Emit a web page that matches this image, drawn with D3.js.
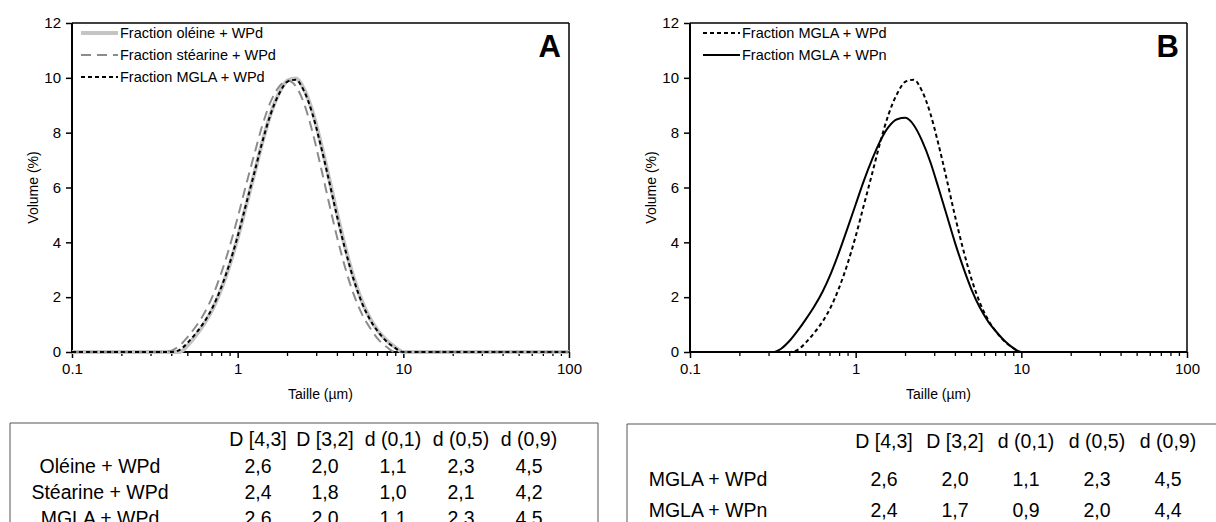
<!DOCTYPE html>
<html><head><meta charset="utf-8">
<script src="https://cdn.jsdelivr.net/npm/d3@7"></script>
<style>body{margin:0;background:#fff}svg{display:block}text{font-family:"Liberation Sans",Arial,sans-serif;fill:#000}</style>
</head><body><svg id="c" width="1216" height="522"></svg>
<script>
const sizes = [0.1,0.251,0.282,0.316,0.355,0.398,0.447,0.501,0.562,0.631,0.708,0.794,0.891,1.0,1.12,1.26,1.41,1.58,1.78,2.0,2.24,2.51,2.82,3.16,3.55,3.98,4.47,5.01,5.62,6.31,7.08,7.94,8.91,10.0,31.6,100];
const oleineWPd = [0,0,0,0,0,0,0,0.25,0.62,1.05,1.58,2.28,3.14,4.16,5.30,6.50,7.66,8.68,9.45,9.90,9.98,9.60,8.80,7.68,6.38,5.05,3.80,2.72,1.86,1.21,0.75,0.42,0.18,0,0,0];
const stearineWPd = [0,0,0,0,0,0.05,0.24,0.56,0.95,1.43,2.06,2.86,3.81,4.90,6.06,7.21,8.27,9.12,9.68,9.90,9.70,9.08,8.06,6.81,5.47,4.19,3.05,2.11,1.39,0.87,0.45,0.18,0,0,0,0];
const mglaWPd = [0,0,0,0,0,0,0.08,0.35,0.70,1.11,1.64,2.34,3.20,4.22,5.35,6.53,7.67,8.67,9.42,9.86,9.93,9.53,8.71,7.58,6.28,4.95,3.71,2.65,1.80,1.17,0.72,0.38,0.15,0,0,0];
const mglaWPn = [0,0,0,0,0.12,0.40,0.78,1.20,1.66,2.20,2.86,3.64,4.50,5.38,6.24,7.04,7.71,8.21,8.49,8.54,8.28,7.72,6.94,5.99,4.98,3.98,3.07,2.27,1.62,1.11,0.73,0.40,0.15,0,0,0];
const yTicks = [0,2,4,6,8,10,12];
const xTicks = [0.1,1,10,100];
const xTickLabels = ["0.1","1","10","100"];
const legendA = ["Fraction oléine + WPd","Fraction stéarine + WPd","Fraction MGLA + WPd"];
const legendB = ["Fraction MGLA + WPd","Fraction MGLA + WPn"];
const tableHeaders = ["D [4,3]","D [3,2]","d (0,1)","d (0,5)","d (0,9)"];
const tableARows = ["Oléine  + WPd","Stéarine + WPd","MGLA + WPd"];
const tableAValues = [["2,6","2,0","1,1","2,3","4,5"],["2,4","1,8","1,0","2,1","4,2"],["2,6","2,0","1,1","2,3","4,5"]];
const tableBRows = ["MGLA + WPd","MGLA + WPn"];
const tableBValues = [["2,6","2,0","1,1","2,3","4,5"],["2,4","1,7","0,9","2,0","4,4"]];

const svg = d3.select("#c");
const styles = {
  ole:{stroke:"#c4c4c4",width:4,dash:null},
  ste:{stroke:"#8c8c8c",width:2,dash:"10,6"},
  mglaD:{stroke:"#000",width:2,dash:"4,3"},
  wpn:{stroke:"#000",width:2,dash:null}
};

function panel(x0,x1,label,series,legend,legendX){
  const x = d3.scaleLog().domain([0.1,100]).range([x0,x1]);
  const y = d3.scaleLinear().domain([0,12]).range([352,23]);
  const g = svg.append("g");
  g.append("line").attr("x1",x0).attr("x2",x1).attr("y1",23).attr("y2",23).attr("stroke","#000").attr("stroke-width",1.5);
  g.append("line").attr("x1",x1).attr("x2",x1).attr("y1",23).attr("y2",352).attr("stroke","#000").attr("stroke-width",1.5);
  const ya = g.append("g").attr("transform",`translate(${x0},0)`)
    .call(d3.axisLeft(y).tickValues(yTicks).tickSize(6).tickPadding(5).tickFormat(d3.format("d")));
  ya.select(".domain").attr("stroke-width",2).attr("d",`M0,${y(0)}V${y(12)}`);
  ya.selectAll(".tick line").attr("stroke-width",1.5);
  ya.selectAll("text").style("font-size","15px").style("font-family","Liberation Sans, Arial");
  const xa = g.append("g").attr("transform","translate(0,352)")
    .call(d3.axisBottom(x).tickValues(xTicks).tickSize(6).tickPadding(5).tickFormat((d,i)=>xTickLabels[i]));
  xa.select(".domain").attr("stroke-width",2).attr("d",`M${x0},0H${x1}`);
  xa.selectAll(".tick line").attr("stroke-width",1.5);
  xa.selectAll("text").style("font-size","15px").style("font-family","Liberation Sans, Arial");
  const minor = [];
  [0.1,1,10].forEach(b=>{for(let k=2;k<=9;k++)minor.push(b*k);});
  g.append("g").selectAll("line").data(minor).join("line")
    .attr("x1",d=>x(d)).attr("x2",d=>x(d)).attr("y1",352).attr("y2",356)
    .attr("stroke","#000").attr("stroke-width",1.3);
  g.append("text").attr("transform",`translate(${x0-34},${(y(0)+y(12))/2}) rotate(-90)`)
    .attr("text-anchor","middle").style("font-size","14px").text("Volume (%)");
  g.append("text").attr("x",(x0+x1)/2).attr("y",399).attr("text-anchor","middle")
    .style("font-size","14px").text("Taille (µm)");
  g.append("text").attr("x",x1-8).attr("y",57).attr("text-anchor","end")
    .style("font-size","31px").style("font-weight","bold").text(label);
  const line = d3.line().x((d,i)=>x(sizes[i])).y(d=>y(d)).curve(d3.curveMonotoneX);
  series.forEach(s=>{
    g.append("path").attr("d",line(s.data)).attr("fill","none")
      .attr("stroke",s.st.stroke).attr("stroke-width",s.st.width)
      .attr("stroke-dasharray",s.st.dash);
  });
  legend.forEach((t,i)=>{
    const ly = 33+22*i;
    const st = series[i].st;
    g.append("line").attr("x1",legendX).attr("x2",legendX+37).attr("y1",ly).attr("y2",ly)
      .attr("stroke",st.stroke).attr("stroke-width",st.width).attr("stroke-dasharray",st.dash);
    g.append("text").attr("x",legendX+39).attr("y",ly).attr("dy","0.35em")
      .style("font-size","14.5px").text(t);
  });
}

panel(72,569,"A",[
  {data:oleineWPd,st:styles.ole},
  {data:stearineWPd,st:styles.ste},
  {data:mglaWPd,st:styles.mglaD}],legendA,81);
panel(690,1187,"B",[
  {data:mglaWPd,st:styles.mglaD},
  {data:mglaWPn,st:styles.wpn}],legendB,703);

function table(left,right,top,labelX,colX,headerY,rowYs,rows,vals,rightBorder){
  const g = svg.append("g");
  g.append("line").attr("x1",left).attr("x2",right).attr("y1",top).attr("y2",top).attr("stroke","#555").attr("stroke-width",1);
  g.append("line").attr("x1",left).attr("x2",left).attr("y1",top).attr("y2",530).attr("stroke","#555").attr("stroke-width",1);
  if(rightBorder) g.append("line").attr("x1",right).attr("x2",right).attr("y1",top).attr("y2",530).attr("stroke","#555").attr("stroke-width",1);
  tableHeaders.forEach((h,i)=>g.append("text").attr("x",colX[i]).attr("y",headerY).attr("dy","0.35em")
    .attr("text-anchor","middle").style("font-size","19.5px").text(h));
  rows.forEach((r,j)=>{
    g.append("text").attr("x",labelX).attr("y",rowYs[j]).attr("dy","0.35em").attr("text-anchor","middle")
      .style("font-size","19.5px").text(r);
    vals[j].forEach((v,i)=>g.append("text").attr("x",colX[i]).attr("y",rowYs[j]).attr("dy","0.35em")
      .attr("text-anchor","middle").style("font-size","19.5px").text(v));
  });
}
table(10,598,423,100,[258,325,393,461,529],439,[466,492,518],tableARows,tableAValues,true);
table(627,1216,424,708,[884,955,1026,1097,1168],441,[479,510],tableBRows,tableBValues,false);
</script></body></html>
